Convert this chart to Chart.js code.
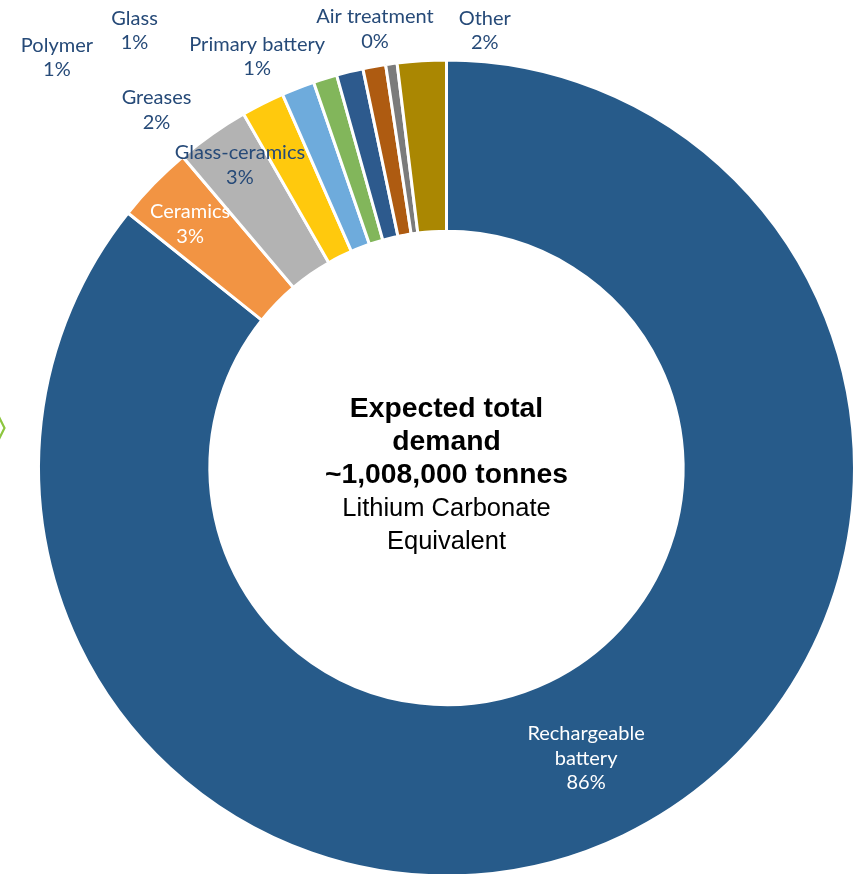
<!DOCTYPE html>
<html>
	<head>
		<meta charset="utf-8">
		<title>Lithium demand by end use</title>
		<script src="https://cdn.jsdelivr.net/npm/chart.js"></script>
		<style>
			html, body { margin: 0; padding: 0; background: #fff; overflow: hidden; }
			#wrap { width: 856px; height: 940px; position: relative; }
		</style>
	</head>
	<body>
		<div id="wrap"><canvas id="demand" aria-label="Expected total demand by end use" role="img"></canvas></div>
		<script type="text/javascript">
			// end uses, clockwise from 12 o'clock
			const uses = ['Rechargeable battery', 'Ceramics', 'Glass-ceramics', 'Greases', 'Polymer', 'Glass', 'Primary battery', '', 'Air treatment', 'Other'];
			// share of demand, %
			const shares = [85.6, 3.06, 2.9, 1.7, 1.3, 0.94, 1.05, 0.9, 0.45, 1.93];
			const colours = ['#275b8a', '#f29443', '#b3b3b3', '#ffc90d', '#6eabdc', '#82b65b', '#2d5a8d', '#ae5b11', '#7b7b7b', '#aa8702'];
			const centreLines = [
				{ text: 'Expected total', bold: true },
				{ text: 'demand', bold: true },
				{ text: '~1,008,000 tonnes', bold: true },
				{ text: 'Lithium Carbonate', bold: false },
				{ text: 'Equivalent', bold: false }
			];

			// label placement: angle (deg, clockwise from top) and distance as a share of the outer radius
			// null = centre of the slice
			const labelPlace = [null, [-46.4, 0.872], [-34.3, 0.903], [-39.0, 1.135], [-43.5, 1.394], [-35.5, 1.323], [-24.7, 1.116], null, [-9.25, 1.096], [5.0, 1.081]];
			const labelInside = [true, true, false, false, false, false, false, false, false, false];

			const labelsPlugin = {
				id: 'sliceLabels',
				afterDatasetsDraw(chart) {
					const ctx = chart.ctx;
					const arcs = chart.getDatasetMeta(0).data;
					const total = shares.reduce((a, b) => a + b, 0);
					ctx.save();
					ctx.font = '20px Lato';
					ctx.textAlign = 'center';
					ctx.textBaseline = 'middle';
					arcs.forEach((arc, i) => {
						if (!uses[i]) return;
						let x, y;
						if (labelPlace[i] == null) {
							const p = arc.getCenterPoint();
							x = p.x; y = p.y;
						} else {
							const a = labelPlace[i][0] * Math.PI / 180;
							const r = labelPlace[i][1] * 406;
							x = arc.x + Math.sin(a) * r;
							y = arc.y - Math.cos(a) * r;
						}
						let lines = uses[i] == 'Rechargeable battery' ? ['Rechargeable', 'battery'] : [uses[i]];
						lines.push(Math.round(shares[i] / total * 100) + '%');
						ctx.fillStyle = labelInside[i] ? '#ffffff' : '#264a78';
						const lh = 24.5;
						lines.forEach((l, k) => ctx.fillText(l, x, y + (k - (lines.length - 1) / 2) * lh));
					});

					// centre text
					const c = arcs[0];
					const lh = 33;
					centreLines.forEach((l, k) => {
						ctx.font = l.bold ? 'bold 28.3px "Liberation Sans"' : '25.5px "Liberation Sans"';
						ctx.fillStyle = '#000';
						ctx.textBaseline = 'alphabetic';
						ctx.fillText(l.text, c.x, c.y - 51 + k * lh);
					});

					// bit of the slide's green chevron at the left edge
					ctx.strokeStyle = '#8dc63f';
					ctx.lineWidth = 2.2;
					ctx.beginPath();
					ctx.moveTo(-3, 413);
					ctx.lineTo(4.5, 428);
					ctx.lineTo(-3, 443);
					ctx.stroke();
					ctx.restore();
				}
			};

			new Chart(document.getElementById('demand'), {
				type: 'doughnut',
				data: {
					labels: uses,
					datasets: [{ data: shares, backgroundColor: colours, borderColor: '#ffffff', borderWidth: 3 }]
				},
				options: {
					responsive: true,
					maintainAspectRatio: false,
					animation: false,
					cutout: '58%',
					layout: { padding: { left: 37, right: 0, top: 0, bottom: 4 } },
					plugins: { legend: { display: false }, tooltip: { enabled: false } }
				},
				plugins: [labelsPlugin]
			});
		</script>
	</body>
</html>
